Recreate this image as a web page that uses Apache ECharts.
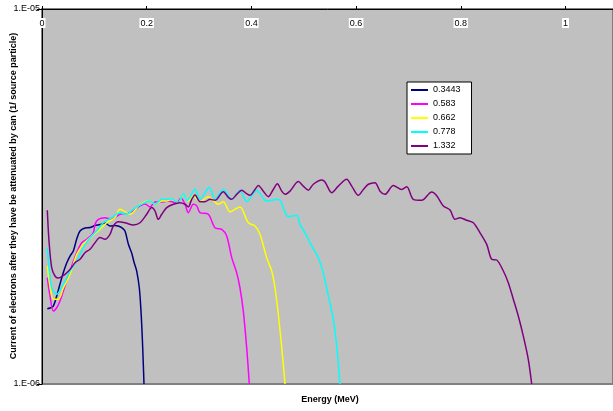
<!DOCTYPE html>
<html><head><meta charset="utf-8">
<script src="https://cdn.jsdelivr.net/npm/echarts@6/dist/echarts.min.js"></script>
<style>html,body{margin:0;padding:0;background:#fff}#c{width:613px;height:411px}</style>
</head><body><div id="c"></div>
<script>
// Legend / series names
const seriesNames = ['0.3443', '0.583', '0.662', '0.778', '1.332'];
const seriesColors = ['#000080', '#FF00FF', '#FFFF00', '#00FFFF', '#800080'];
const xTickValues = [0, 0.2, 0.4, 0.6, 0.8, 1];
const yTickValues = [1e-6, 1e-5];
const yTitle = 'Current of electrons after they have be attenuated by can (1/ source particle)';
const xTitle = 'Energy (MeV)';

// [energy (MeV), current (1/source particle)]
const data3443 = [[0.0101,1.588e-6],[0.0153,1.595e-6],[0.0216,1.614e-6],[0.0287,1.727e-6],[0.0344,1.848e-6],[0.0411,1.989e-6],[0.0472,2.102e-6],[0.0535,2.194e-6],[0.0598,2.262e-6],[0.0663,2.436e-6],[0.0726,2.559e-6],[0.0821,2.606e-6],[0.0917,2.614e-6],[0.1012,2.646e-6],[0.1108,2.662e-6],[0.1203,2.687e-6],[0.1299,2.638e-6],[0.1394,2.646e-6],[0.1452,2.638e-6],[0.1522,2.611e-6],[0.1585,2.559e-6],[0.1649,2.362e-6],[0.1713,2.235e-6],[0.1757,2.115e-6],[0.1809,2.001e-6],[0.1859,1.803e-6],[0.1891,1.565e-6],[0.1916,1.327e-6],[0.1935,1.131e-6],[0.1948,1.0e-6]];

const data583 = [[0.0101,1.922e-6],[0.0153,1.717e-6],[0.0216,1.565e-6],[0.0281,1.597e-6],[0.0344,1.664e-6],[0.0407,1.770e-6],[0.0535,2.001e-6],[0.0663,2.240e-6],[0.0758,2.381e-6],[0.0854,2.432e-6],[0.098,2.530e-6],[0.1012,2.665e-6],[0.1075,2.749e-6],[0.1203,2.777e-6],[0.1331,2.749e-6],[0.149,2.835e-6],[0.1681,2.864e-6],[0.1872,2.985e-6],[0.1967,3.020e-6],[0.2063,2.966e-6],[0.2159,3.057e-6],[0.2292,3.057e-6],[0.2407,3.076e-6],[0.2573,3.044e-6],[0.2655,3.133e-6],[0.2732,3.015e-6],[0.2795,2.864e-6],[0.289,3.015e-6],[0.2955,2.985e-6],[0.3018,2.864e-6],[0.3177,2.835e-6],[0.3305,2.610e-6],[0.3433,2.585e-6],[0.3528,2.483e-6],[0.3624,2.172e-6],[0.3719,1.979e-6],[0.3782,1.803e-6],[0.3845,1.565e-6],[0.391,1.250e-6],[0.396,1.0e-6]];

const data662 = [[0.0101,2.064e-6],[0.0153,1.826e-6],[0.0216,1.683e-6],[0.0311,1.683e-6],[0.0407,1.803e-6],[0.0535,1.961e-6],[0.0663,2.218e-6],[0.0789,2.357e-6],[0.0917,2.457e-6],[0.1075,2.561e-6],[0.1236,2.692e-6],[0.1394,2.777e-6],[0.149,2.924e-6],[0.1681,2.835e-6],[0.1872,3.015e-6],[0.2063,3.076e-6],[0.2159,3.015e-6],[0.2287,3.076e-6],[0.2382,3.076e-6],[0.2478,3.108e-6],[0.2604,3.044e-6],[0.2699,3.204e-6],[0.2795,3.076e-6],[0.289,3.178e-6],[0.3018,3.063e-6],[0.3177,3.159e-6],[0.3272,3.089e-6],[0.3368,3.015e-6],[0.3463,3.063e-6],[0.3591,2.878e-6],[0.3687,2.924e-6],[0.3782,2.966e-6],[0.3941,2.692e-6],[0.4069,2.638e-6],[0.4164,2.507e-6],[0.4292,2.172e-6],[0.4388,2.001e-6],[0.4451,1.803e-6],[0.4514,1.535e-6],[0.4579,1.250e-6],[0.4642,1.0e-6]];

const data778 = [[0.0101,2.310e-6],[0.0143,2.001e-6],[0.0185,1.803e-6],[0.0281,1.735e-6],[0.0407,1.845e-6],[0.0535,2.001e-6],[0.0663,2.128e-6],[0.0789,2.310e-6],[0.0917,2.457e-6],[0.1045,2.561e-6],[0.1171,2.692e-6],[0.1331,2.777e-6],[0.149,2.864e-6],[0.1618,2.835e-6],[0.1744,2.924e-6],[0.1872,3.001e-6],[0.2063,3.076e-6],[0.2159,3.015e-6],[0.2287,3.108e-6],[0.2478,3.112e-6],[0.2604,3.044e-6],[0.2699,3.217e-6],[0.2776,3.089e-6],[0.2923,3.302e-6],[0.3018,3.108e-6],[0.3196,3.349e-6],[0.3305,3.108e-6],[0.3463,3.302e-6],[0.3624,3.108e-6],[0.3782,3.282e-6],[0.391,3.063e-6],[0.4101,3.282e-6],[0.4292,3.076e-6],[0.4514,3.108e-6],[0.4705,2.795e-6],[0.4865,2.818e-6],[0.4928,2.665e-6],[0.5024,2.530e-6],[0.5152,2.334e-6],[0.5278,2.172e-6],[0.5373,1.979e-6],[0.5469,1.717e-6],[0.5564,1.488e-6],[0.5629,1.263e-6],[0.5692,1.0e-6]];

const data1332 = [[0.0101,2.905e-6],[0.0134,2.406e-6],[0.0185,2.043e-6],[0.0248,1.941e-6],[0.0306,1.918e-6],[0.0344,1.922e-6],[0.0439,1.961e-6],[0.0535,2.019e-6],[0.063,2.106e-6],[0.0726,2.151e-6],[0.0821,2.240e-6],[0.0917,2.287e-6],[0.1012,2.381e-6],[0.1108,2.457e-6],[0.1203,2.432e-6],[0.1299,2.507e-6],[0.1362,2.638e-6],[0.1458,2.709e-6],[0.1585,2.692e-6],[0.1744,2.655e-6],[0.1872,2.692e-6],[0.2,2.835e-6],[0.2096,2.954e-6],[0.2159,2.893e-6],[0.2222,2.749e-6],[0.2287,2.835e-6],[0.2382,2.954e-6],[0.2508,3.015e-6],[0.2636,3.044e-6],[0.2732,3.015e-6],[0.2795,2.966e-6],[0.286,3.108e-6],[0.2923,3.191e-6],[0.3018,3.063e-6],[0.3114,3.063e-6],[0.321,3.108e-6],[0.3305,3.089e-6],[0.3463,3.257e-6],[0.3559,3.146e-6],[0.3624,3.108e-6],[0.3719,3.204e-6],[0.3815,3.288e-6],[0.391,3.217e-6],[0.3973,3.185e-6],[0.4069,3.302e-6],[0.4132,3.384e-6],[0.4227,3.268e-6],[0.4323,3.159e-6],[0.4418,3.302e-6],[0.4495,3.421e-6],[0.4579,3.268e-6],[0.4642,3.204e-6],[0.4737,3.268e-6],[0.4896,3.467e-6],[0.4991,3.371e-6],[0.5087,3.288e-6],[0.5182,3.409e-6],[0.5343,3.499e-6],[0.5406,3.457e-6],[0.5534,3.237e-6],[0.566,3.371e-6],[0.582,3.514e-6],[0.5916,3.371e-6],[0.6042,3.185e-6],[0.6138,3.302e-6],[0.6233,3.409e-6],[0.6361,3.443e-6],[0.6457,3.268e-6],[0.6552,3.204e-6],[0.6711,3.384e-6],[0.6871,3.302e-6],[0.6967,3.355e-6],[0.7093,3.108e-6],[0.7253,3.089e-6],[0.7444,3.251e-6],[0.754,3.178e-6],[0.7666,2.985e-6],[0.7794,2.911e-6],[0.7889,2.749e-6],[0.7985,2.777e-6],[0.8113,2.732e-6],[0.8239,2.692e-6],[0.8367,2.530e-6],[0.8495,2.357e-6],[0.859,2.151e-6],[0.8686,2.141e-6],[0.8812,2.001e-6],[0.8907,1.863e-6],[0.9003,1.683e-6],[0.9098,1.518e-6],[0.9194,1.342e-6],[0.9289,1.164e-6],[0.9354,1.0e-6]];

const allData = [data3443, data583, data662, data778, data1332];

const chart = echarts.init(document.getElementById('c'), null, {renderer: 'canvas'});
const FONT = 'Arial, "Liberation Sans", sans-serif';

function expLabel(v) {
  const e = Math.round(Math.log10(v));
  return '1.E' + (e < 0 ? '-' : '+') + String(Math.abs(e)).padStart(2, '0');
}

chart.setOption({
  animation: false,
  backgroundColor: '#fff',
  grid: {left: 42, right: 0, top: 9, bottom: 27, containLabel: false, outerBoundsMode: 'none',
         show: true, backgroundColor: '#C0C0C0', borderColor: '#808080', borderWidth: 2},
  legend: {
    data: seriesNames, orient: 'vertical', left: 407, top: 82,
    icon: 'rect', itemWidth: 17, itemHeight: 2, itemGap: 2,
    padding: [2, 11, 2, 4], backgroundColor: '#fff', borderColor: '#000', borderWidth: 1, borderRadius: 0,
    textStyle: {fontSize: 9, fontFamily: FONT, color: '#000', lineHeight: 12}
  },
  xAxis: {
    type: 'value', position: 'top', min: 0, max: 1.0907, interval: 0.2,
    axisLine: {show: true, lineStyle: {color: '#000', width: 1}},
    axisTick: {show: true, length: 3, lineStyle: {color: '#000'}},
    splitLine: {show: false},
    axisLabel: {
      inside: true, margin: 9, fontSize: 9, fontFamily: FONT, color: '#000',
      backgroundColor: '#fff', padding: [1, 1, 0, 1], showMaxLabel: false,
      formatter: v => xTickValues.some(t => Math.abs(t - v) < 1e-9) ? String(v) : ''
    }
  },
  yAxis: {
    type: 'log', logBase: 10, min: yTickValues[0], max: yTickValues[1],
    axisLine: {show: true, lineStyle: {color: '#000', width: 1}},
    axisTick: {show: true, length: 5, lineStyle: {color: '#000'}},
    minorTick: {show: false},
    splitLine: {show: false},
    axisLabel: {margin: 2, fontSize: 9, fontFamily: FONT, color: '#000', formatter: expLabel}
  },
  graphic: [{
    type: 'text', x: 14, y: 196, rotation: Math.PI / 2,
    style: {text: yTitle, font: 'bold 9px ' + FONT, fill: '#000', align: 'center', verticalAlign: 'middle'}
  }, {
    type: 'text', x: 330, y: 400,
    style: {text: xTitle, font: 'bold 9px ' + FONT, fill: '#000', align: 'center', verticalAlign: 'middle'}
  }],
  series: seriesNames.map((n, i) => ({
    name: n, type: 'line', data: allData[i], smooth: 0.3,
    symbol: 'none', showSymbol: false, color: seriesColors[i],
    lineStyle: {width: 1.5, color: seriesColors[i]},
    itemStyle: {color: seriesColors[i]}
  }))
});
</script></body></html>
